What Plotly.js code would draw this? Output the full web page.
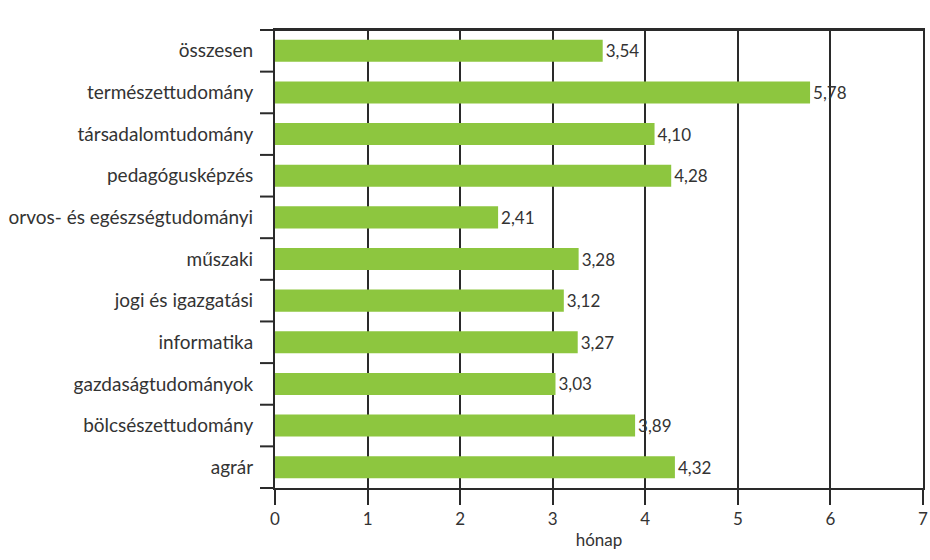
<!DOCTYPE html>
<html><head><meta charset="utf-8">
<script src="https://cdn.plot.ly/plotly-3.0.1.min.js"></script>
<style>html,body{margin:0;padding:0;background:#fff}</style>
</head><body>
<div id="chart" style="width:930px;height:560px"></div>
<script>
const categories = ["összesen","természettudomány","társadalomtudomány","pedagógusképzés","orvos- és egészségtudományi","műszaki","jogi és igazgatási","informatika","gazdaságtudományok","bölcsészettudomány","agrár"];
const values = [3.54,5.78,4.10,4.28,2.41,3.28,3.12,3.27,3.03,3.89,4.32];
const xTicks = [0,1,2,3,4,5,6,7];
const labels = values.map(v => v.toFixed(2).replace('.', ','));

const fam = "Lato, 'Open Sans', sans-serif";
const txt = "#333";
const lineCol = "#2a2a2a";
const n = categories.length;
const plotW = 930 - 275 - 7;
const tickFrac = 15 / plotW;

// category boundary ticks on the left (paper coordinates: n+1 boundaries)
const shapes = [{type: "line", xref: "paper", yref: "paper", x0: 0, x1: 1, y0: 1, y1: 1,
                 line: {color: lineCol, width: 2}}];
for (let i = 0; i <= n; i++) {
  const yp = 1 - i / n;
  shapes.push({type: "line", xref: "paper", yref: "paper", x0: -tickFrac, x1: 0, y0: yp, y1: yp,
               line: {color: lineCol, width: 2}});
}

Plotly.newPlot("chart", [{
  type: "bar", orientation: "h",
  x: values, y: categories,
  text: labels, textposition: "outside", cliponaxis: false,
  textfont: {family: fam, size: 17, color: txt},
  marker: {color: "#8dc63f"},
  hoverinfo: "none"
}], {
  width: 930, height: 560,
  margin: {l: 275, r: 7, t: 30, b: 72},
  bargap: 0.47,
  paper_bgcolor: "#fff", plot_bgcolor: "#fff",
  font: {family: fam, size: 17, color: txt},
  showlegend: false,
  xaxis: {
    range: [0, 7], tickvals: xTicks, ticktext: xTicks.map(String),
    showgrid: true, gridcolor: lineCol, gridwidth: 2,
    showline: true, linecolor: lineCol, linewidth: 2, mirror: true,
    ticks: "outside", ticklen: 15, tickcolor: lineCol, tickwidth: 2,
    zeroline: false,
    tickfont: {family: fam, size: 17, color: txt},
    title: {text: "hónap", font: {family: fam, size: 17, color: txt}, standoff: 6}
  },
  yaxis: {
    type: "category", autorange: "reversed",
    showgrid: false, zeroline: false,
    showline: true, linecolor: lineCol, linewidth: 2, mirror: true,
    ticks: "", ticklabelstandoff: 16,
    tickfont: {family: fam, size: 19, color: txt}
  },
  shapes: shapes
}, {displayModeBar: false, staticPlot: true});
</script>
</body></html>
